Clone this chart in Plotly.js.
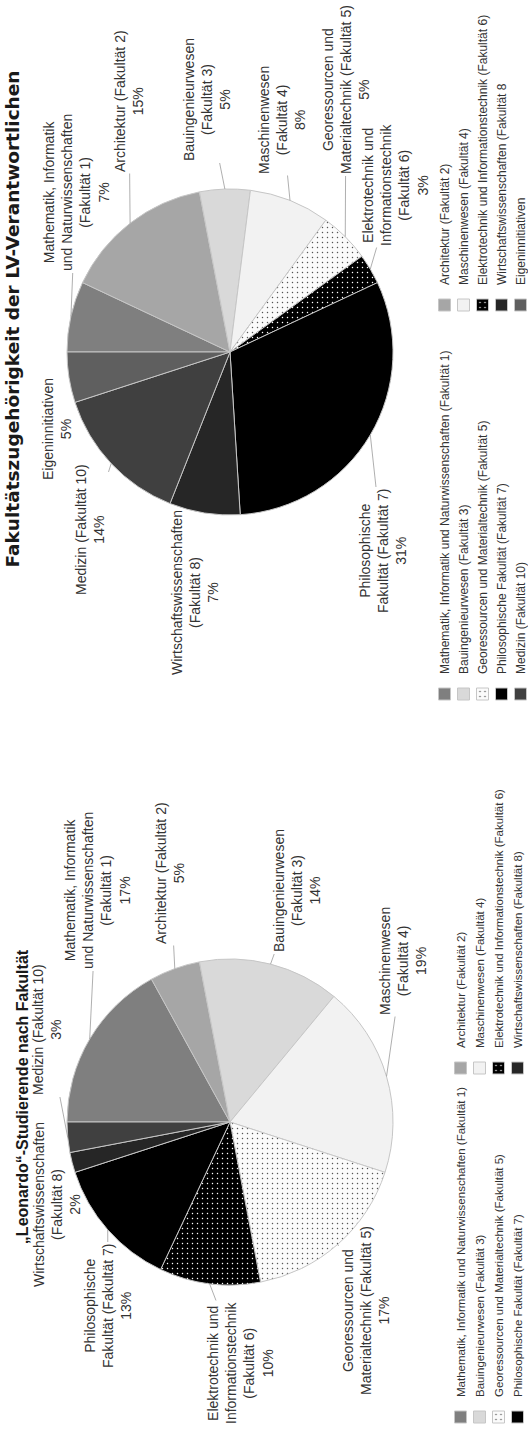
<!DOCTYPE html>
<html>
<head>
<meta charset="utf-8">
<script src="https://cdn.plot.ly/plotly-3.0.1.min.js"></script>
<style>
  html, body { margin:0; padding:0; background:#fff; overflow:hidden; width:528px; height:1431px; }
  #wrap { position:absolute; left:0; top:0; width:1431px; height:528px; overflow:hidden; background:#fff;
          transform-origin:0 0; transform:translate(0,1431px) rotate(-90deg); }
  #figL { position:absolute; left:-100px; top:0; width:816px; height:560px; }
  #figR { position:absolute; left:716px; top:0; width:800px; height:560px; }
</style>
</head>
<body>
<div id="wrap">
  <div id="figL"></div>
  <div id="figR"></div>
</div>
<script>
// ---------------- DATA ----------------
const titleLeft  = '„Leonardo“-Studierende nach Fakultät';
const titleRight = 'Fakultätszugehörigkeit der LV-Verantwortlichen';

const catsLeft = [
  'Mathematik, Informatik und Naturwissenschaften (Fakultät 1)',
  'Architektur (Fakultät 2)',
  'Bauingenieurwesen (Fakultät 3)',
  'Maschinenwesen (Fakultät 4)',
  'Georessourcen und Materialtechnik (Fakultät 5)',
  'Elektrotechnik und Informationstechnik (Fakultät 6)',
  'Philosophische Fakultät (Fakultät 7)',
  'Wirtschaftswissenschaften (Fakultät 8)',
  'Medizin (Fakultät 10)'
];
const valsLeft = [17, 5, 14, 19, 17, 10, 13, 2, 3];
const sliceTextLeft = [
  'Mathematik, Informatik<br>und Naturwissenschaften<br>(Fakultät 1)',
  'Architektur (Fakultät 2)',
  'Bauingenieurwesen<br>(Fakultät 3)',
  'Maschinenwesen<br>(Fakultät 4)',
  'Georessourcen und<br>Materialtechnik (Fakultät 5)',
  'Elektrotechnik und<br>Informationstechnik<br>(Fakultät 6)',
  'Philosophische<br>Fakultät (Fakultät 7)',
  'Wirtschaftswissenschaften<br>(Fakultät 8)',
  'Medizin (Fakultät 10)'
];
// legend entries the reference shows for the left chart (the last one is cropped away there)
const legendHiddenLeft = ['Medizin (Fakultät 10)'];

const catsRight = [
  'Mathematik, Informatik und Naturwissenschaften (Fakultät 1)',
  'Architektur (Fakultät 2)',
  'Bauingenieurwesen (Fakultät 3)',
  'Maschinenwesen (Fakultät 4)',
  'Georessourcen und Materialtechnik (Fakultät 5)',
  'Elektrotechnik und Informationstechnik (Fakultät 6)',
  'Philosophische Fakultät (Fakultät 7)',
  'Wirtschaftswissenschaften (Fakultät 8',
  'Medizin (Fakultät 10)',
  'Eigeninnitiativen'
];
const valsRight = [7, 15, 5, 8, 5, 3, 31, 7, 14, 5];
const sliceTextRight = [
  'Mathematik, Informatik<br>und Naturwissenschaften<br>(Fakultät 1)',
  'Architektur (Fakultät 2)',
  'Bauingenieurwesen<br>(Fakultät 3)',
  'Maschinenwesen<br>(Fakultät 4)',
  'Georessourcen und<br>Materialtechnik (Fakultät 5)',
  'Elektrotechnik und<br>Informationstechnik<br>(Fakultät 6)',
  'Philosophische<br>Fakultät (Fakultät 7)',
  'Wirtschaftswissenschaften<br>(Fakultät 8)',
  'Medizin (Fakultät 10)',
  'Eigeninnitiativen'
];

// ---------------- STYLE ----------------
const colorsLeft  = ['#7f7f7f','#a6a6a6','#d9d9d9','#f2f2f2','#fbfbfb','#000000','#000000','#262626','#404040'];
const patternLeft = ['','','','','.','.','','',''];
const dotsLeft    = ['#000','#000','#000','#000','#555555','#ffffff','#000','#000','#000'];
const colorsRight  = ['#7f7f7f','#a6a6a6','#d9d9d9','#f2f2f2','#fbfbfb','#000000','#000000','#262626','#404040','#5f5f5f'];
const patternRight = ['','','','','.','.','','','',''];
const dotsRight    = ['#000','#000','#000','#000','#555555','#ffffff','#000','#000','#000','#000'];

// label text centres (px, in each figure's own frame)
const labelPosLeft  = [[640,97],[658,170],[640,297],[570,403],[220,366],[168,240],[225,108],[326,57],[501,47]];
const labelPosRight = [[522,76],[614,129],[615,207],[595,282],[625,346],[530,395],[164,383],[123,195],[185,90],[286,57]];

const FONT = 'Liberation Sans, Arial, sans-serif';
const H = 560;
const R = 163;

function build(divId, W, cx, cy, cats, vals, sliceText, colors, pat, dots, labelPos,
               title, titleFont, titleSize, titleX, titleY, leg) {
  const total = vals.reduce((a, b) => a + b, 0);
  const dom = {
    x: [(cx - R) / W, (cx + R) / W],
    y: [1 - (cy + R) / H, 1 - (cy - R) / H]
  };
  const trace = {
    type: 'pie', labels: cats, values: vals, sort: false, direction: 'clockwise', rotation: 0,
    textinfo: 'none', hoverinfo: 'none', domain: dom,
    marker: {
      colors: colors,
      line: { color: '#c6c6c6', width: 1 },
      pattern: { shape: pat, fgcolor: dots, bgcolor: colors, size: 5, solidity: 0.07 }
    }
  };
  let cum = 0;
  const annotations = vals.map((v, i) => {
    const th = 2 * Math.PI * (cum + v / 2) / total;
    cum += v;
    const ax0 = cx + R * Math.sin(th);
    const ay0 = cy - R * Math.cos(th);
    return {
      x: ax0 / W, y: 1 - ay0 / H, xref: 'paper', yref: 'paper',
      text: sliceText[i] + '<br>' + v + '%',
      showarrow: true, arrowhead: 0, arrowwidth: 0.8, arrowcolor: '#9a9a9a', standoff: 0,
      ax: labelPos[i][0] - ax0, ay: labelPos[i][1] - ay0,
      font: { family: FONT, size: 14, color: '#333333' }, align: 'center'
    };
  });
  const layout = {
    width: W, height: H,
    margin: { l: 0, r: 0, t: 0, b: 0, pad: 0, autoexpand: false },
    paper_bgcolor: '#ffffff', plot_bgcolor: '#ffffff',
    showlegend: true,
    title: {
      text: '<b>' + title + '</b>', x: titleX / W, y: 1 - titleY / H,
      xref: 'container', yref: 'container', xanchor: 'center', yanchor: 'middle',
      font: { family: titleFont, size: titleSize, color: '#1a1a1a' }
    },
    legend: {
      orientation: 'h', x: leg.x / W, y: 1 - leg.y / H, xanchor: 'left', yanchor: 'top',
      entrywidth: leg.ew, entrywidthmode: 'pixels', traceorder: 'normal',
      bgcolor: 'rgba(0,0,0,0)', borderwidth: 0,
      font: { family: FONT, size: leg.size, color: '#333333' }
    },
    annotations: annotations
  };
  return Plotly.newPlot(divId, [trace], layout, { staticPlot: true, displayModeBar: false });
}

build('figL', 816, 409, 230, catsLeft, valsLeft, sliceTextLeft, colorsLeft, patternLeft, dotsLeft,
      labelPosLeft, titleLeft, FONT, 16, 434, 22, { x: 94, y: 446, ew: 304, size: 11.5 })
  .then(gd => {
    gd.querySelectorAll('.legend .traces').forEach(t => {
      const txt = t.querySelector('.legendtext');
      if (txt && legendHiddenLeft.includes(txt.textContent)) t.style.display = 'none';
    });
  });
build('figR', 800, 363, 230, catsRight, valsRight, sliceTextRight, colorsRight, patternRight, dotsRight,
      labelPosRight, titleRight, 'DejaVu Sans, sans-serif', 18.5, 396, 13, { x: 1, y: 430, ew: 344, size: 12 });
</script>
</body>
</html>
